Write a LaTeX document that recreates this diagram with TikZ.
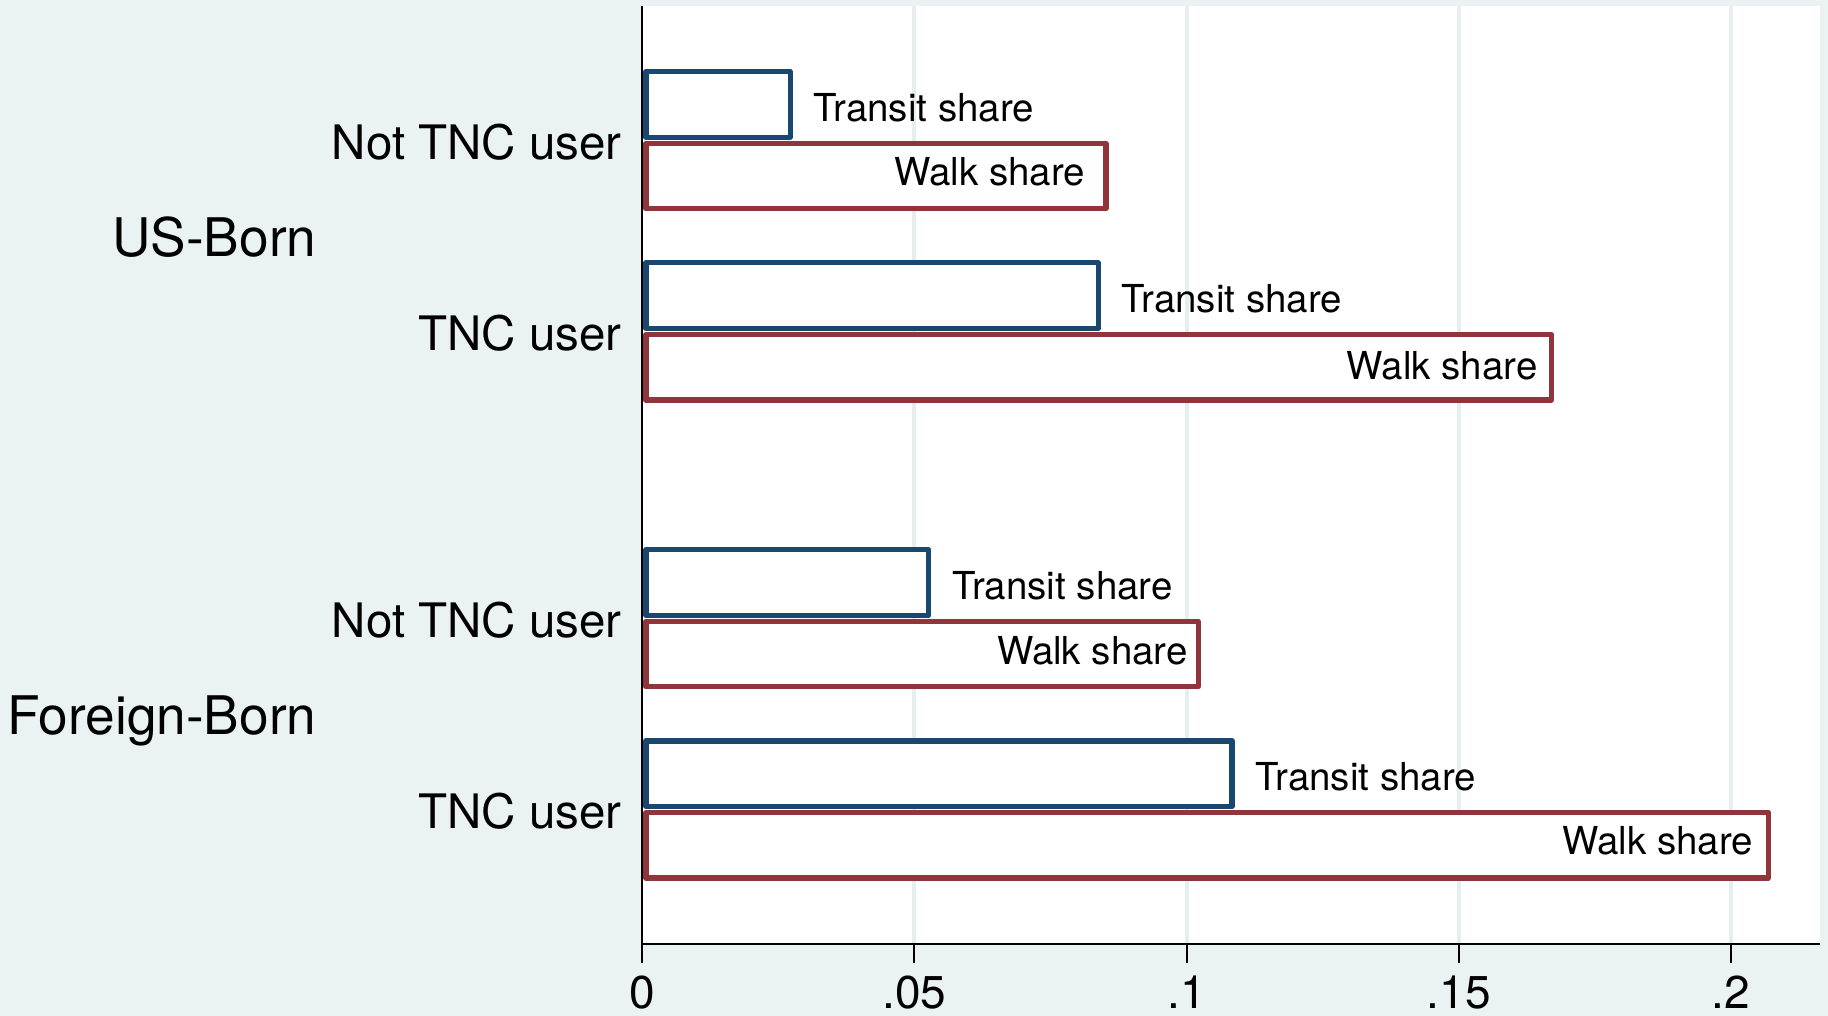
\documentclass[tikz,border=0pt]{standalone}
\usepackage{fontspec}
\setmainfont{TeX Gyre Heros}
\definecolor{bgcol}{HTML}{EAF2F3}
\definecolor{gridcol}{HTML}{E6EEF0}
\definecolor{transitcol}{HTML}{1A476F}
\definecolor{walkcol}{HTML}{90353B}
\begin{document}
\begin{tikzpicture}[x=1pt,y=-1pt,
  barbox/.style={line width=5.2pt, line join=round, fill=white},
  gridline/.style={draw=gridcol, line width=4pt},
  axisline/.style={draw=black, line width=2pt},
  barlbl/.style={font=\fontsize{38.5}{46}\selectfont, inner sep=0pt},
  catlbl/.style={font=\fontsize{47.5}{56}\selectfont, inner sep=0pt, anchor=base east},
  grplbl/.style={font=\fontsize{53.2}{63}\selectfont, inner sep=0pt, anchor=base east},
  ticklbl/.style={font=\fontsize{46}{54}\selectfont, inner sep=0pt, anchor=base}]
% page and plot region
\useasboundingbox (0,0) rectangle (1828,1016);
\fill[bgcol] (0,0) rectangle (1828,1016);
\fill[white] (642,6) rectangle (1820,944);
% vertical grid lines
\foreach \v in {0.05,0.1,0.15,0.2}
  \draw[gridline] ({642+\v*5445},6) -- ({642+\v*5445},944);
% bars: top of transit bar / transit end / walk end / walk label end /
%       walk label baseline / name / category
\foreach \t/\te/\we/\wl/\wb/\nm/\cat in {
    71.7/792.7/1108.6/1085.4/185.5/a/Not TNC user,
    262.9/1100.7/1554/1537.7/379.8/b/TNC user,
    549.7/931.4/1200.7/1188/664.2/c/Not TNC user,
    740.9/1234.6/1770.7/1753.4/854.6/d/TNC user}{
  \draw[barbox, draw=transitcol] (645.9,\t) rectangle ({\te-2.6},{\t+65.5});
  \draw[barbox, draw=walkcol] (645.9,{\t+71.6}) rectangle ({\we-2.6},{\t+137.1});
  \node[barlbl, anchor=base west] (tr\nm) at ({\te+20.5},{\t+49.4}) {Transit share};
  \node[barlbl, anchor=base east] (wk\nm) at (\wl,\wb) {Walk share};
  \node[catlbl] (cat\nm) at (621.7,{\t+87.6}) {\cat};
}
% group labels
\node[grplbl] (usborn) at (316.5,257) {US-Born};
\node[grplbl] (fgborn) at (316.5,734) {Foreign-Born};
% axes and ticks
\draw[axisline] (642,6) -- (642,944) -- (1820,944);
\foreach \v/\lab/\nm in {0/0/t0,0.05/.05/t1,0.1/.1/t2,0.15/.15/t3,0.2/.2/t4}{
  \draw[axisline] ({642+\v*5445},944) -- ({642+\v*5445},963);
  \node[ticklbl] (\nm) at ({642+\v*5445},1008.5) {\lab};
}
\end{tikzpicture}
\end{document}
